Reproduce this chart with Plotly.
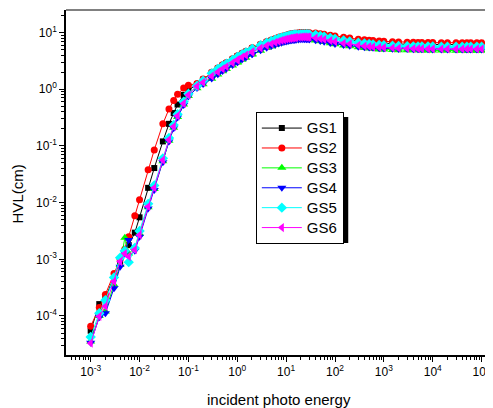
import plotly.graph_objects as go

energy = [0.001, 0.0015, 0.002, 0.003, 0.004, 0.005, 0.006, 0.008, 0.01, 0.015, 0.02, 0.03,
          0.04, 0.05, 0.06, 0.08, 0.1, 0.15, 0.2, 0.3, 0.4, 0.5, 0.6, 0.8, 1, 1.022, 1.25, 1.5,
          2, 2.044, 3, 4, 5, 6, 7, 8, 9, 10, 11, 12, 13, 14, 15, 16, 18, 20, 22, 24, 26, 28, 30,
          40, 50, 60, 80, 100, 150, 200, 300, 400, 500, 600, 800, 1000, 1500, 2000, 3000, 4000,
          5000, 6000, 8000, 10000, 15000, 20000, 30000, 40000, 50000, 60000, 80000, 100000]

gs1 = [5.5e-5, 1.62e-4, 2.09e-4, 5.0e-4, 8.9e-4, 1.41e-3, 1.78e-3, 2.95e-3, 5.5e-3, 1.82e-2,
       4.07e-2, 0.120, 0.245, 0.380, 0.537, 0.794, 0.955, 1.230, 1.479,
       1.950, 2.317, 2.630, 2.884, 3.350, 3.758, 3.802, 4.217, 4.571, 5.188, 5.248, 6.095, 6.761,
       7.244, 7.674, 8.035, 8.318, 8.551, 8.750, 9.016, 9.162, 9.268, 9.354, 9.441, 9.506, 9.594,
       9.661, 9.683, 9.683, 9.661, 9.638, 9.594, 9.441, 9.120, 8.872, 8.414, 8.091, 7.762, 7.464,
       7.079, 6.855, 6.714, 6.683, 6.546, 6.457, 6.339, 6.281, 6.209, 6.180, 6.166, 6.152, 6.138,
       6.124, 6.109, 6.109, 6.095, 6.095, 6.095, 6.095, 6.095, 6.095]

gs2 = [6.6e-5, 1.41e-4, 2.4e-4, 5.6e-4, 1.0e-3, 1.51e-3, 2.51e-3, 5.89e-3, 1.12e-2, 3.8e-2,
       8.5e-2, 0.245, 0.447, 0.631, 0.813, 1.047, 1.175, 1.259, 1.514,
       1.995, 2.371, 2.692, 2.951, 3.428, 3.846, 3.890, 4.315, 4.677, 5.309, 5.370, 6.237, 6.918,
       7.413, 7.852, 8.222, 8.511, 8.750, 8.954, 9.226, 9.376, 9.484, 9.572, 9.661, 9.727, 9.931,
       10.0, 10.02, 10.02, 10.0, 9.977, 9.931, 9.772, 9.550, 9.333, 8.933, 8.670, 8.222, 7.962,
       7.621, 7.430, 7.328, 7.211, 7.063, 6.998, 6.871, 6.808, 6.730, 6.699, 6.683, 6.668, 6.653,
       6.637, 6.622, 6.622, 6.607, 6.607, 6.607, 6.607, 6.607, 6.607]

gs3 = [3.55e-5, 1.0e-4, 1.2e-4, 3.55e-4, 7.9e-4, 2.4e-3, 1.26e-3, 1.58e-3, 2.82e-3, 8.3e-3,
       1.74e-2, 5.37e-2, 0.123, 0.209, 0.324, 0.537, 0.759, 1.04, 1.22,
       1.531, 1.820, 2.065, 2.265, 2.630, 2.951, 2.985, 3.311, 3.589, 4.074, 4.121, 4.786, 5.309,
       5.689, 6.026, 6.310, 6.531, 6.714, 6.871, 6.998, 7.112, 7.194, 7.261, 7.328, 7.379, 7.447,
       7.499, 7.516, 7.516, 7.499, 7.482, 7.447, 7.244, 6.998, 6.808, 6.457, 6.209, 5.888, 5.728,
       5.495, 5.321, 5.212, 5.129, 5.023, 5.012, 4.920, 4.875, 4.875, 4.853, 4.842, 4.831, 4.819,
       4.808, 4.797, 4.797, 4.786, 4.786, 4.786, 4.786, 4.786, 4.786]

gs4 = [3.39e-5, 9.5e-5, 1.12e-4, 3.09e-4, 7.4e-4, 1.26e-3, 2.19e-3, 1.41e-3, 2.51e-3, 7.9e-3,
       1.66e-2, 5.13e-2, 0.120, 0.204, 0.316, 0.525, 0.741, 1.047, 1.230,
       1.549, 1.841, 2.089, 2.291, 2.661, 2.985, 3.020, 3.350, 3.631, 4.121, 4.169, 4.842, 5.370,
       5.754, 6.095, 6.383, 6.607, 6.792, 6.950, 7.079, 7.194, 7.278, 7.345, 7.413, 7.464, 7.534,
       7.586, 7.603, 7.603, 7.586, 7.568, 7.534, 7.328, 7.079, 6.887, 6.531, 6.281, 6.026, 5.861,
       5.623, 5.508, 5.458, 5.370, 5.260, 5.248, 5.152, 5.105, 5.105, 5.082, 5.070, 5.058, 5.047,
       5.035, 5.023, 5.023, 5.012, 5.012, 5.012, 5.012, 5.012, 5.012]

gs5 = [4.27e-5, 1.12e-4, 1.9e-4, 4.79e-4, 1.07e-3, 1.41e-3, 8.9e-4, 1.58e-3, 3.16e-3, 9.5e-3,
       2.0e-2, 6.03e-2, 0.138, 0.234, 0.363, 0.603, 0.832, 1.148, 1.413,
       1.905, 2.265, 2.570, 2.818, 3.273, 3.673, 3.715, 4.121, 4.467, 5.070, 5.129, 5.957, 6.607,
       7.079, 7.499, 7.852, 8.128, 8.356, 8.551, 8.710, 8.851, 8.954, 9.036, 9.120, 9.183, 9.268,
       9.333, 9.354, 9.354, 9.333, 9.311, 9.268, 9.016, 8.710, 8.472, 8.035, 7.727, 7.244, 6.966,
       6.607, 6.397, 6.266, 6.166, 6.039, 5.957, 5.848, 5.794, 5.728, 5.702, 5.689, 5.675, 5.662,
       5.649, 5.636, 5.636, 5.623, 5.623, 5.623, 5.623, 5.623, 5.623]

gs6 = [3.31e-5, 9.8e-5, 1.48e-4, 4.07e-4, 9.1e-4, 1.26e-3, 1.12e-3, 1.48e-3, 2.69e-3, 8.5e-3,
       1.82e-2, 5.62e-2, 0.129, 0.219, 0.339, 0.562, 0.794, 1.122, 1.318,
       1.698, 2.018, 2.291, 2.512, 2.917, 3.273, 3.311, 3.673, 3.981, 4.519, 4.571, 5.309, 5.888,
       6.310, 6.683, 6.998, 7.244, 7.447, 7.621, 7.762, 7.889, 7.980, 8.054, 8.128, 8.185, 8.260,
       8.318, 8.337, 8.337, 8.318, 8.299, 8.260, 8.035, 7.762, 7.551, 7.161, 6.887, 6.457, 6.281,
       5.957, 5.768, 5.649, 5.559, 5.445, 5.433, 5.333, 5.284, 5.224, 5.200, 5.188, 5.176, 5.164,
       5.152, 5.140, 5.140, 5.129, 5.129, 5.129, 5.129, 5.129, 5.129]

series_names = ["GS1", "GS2", "GS3", "GS4", "GS5", "GS6"]
series_values = [gs1, gs2, gs3, gs4, gs5, gs6]
colors = ["#000000", "#ff0000", "#00ff00", "#0000ff", "#00ffff", "#ff00ff"]
symbols = ["square", "circle", "triangle-up", "triangle-down", "diamond", "triangle-left"]
sizes = [6, 7, 8, 8, 8, 8]

x_tick_exp = [-3, -2, -1, 0, 1, 2, 3, 4, 5]
y_tick_exp = [-4, -3, -2, -1, 0, 1]

FONT = "Arial, Liberation Sans, sans-serif"

fig = go.Figure()
for name, vals, col, sym, sz in zip(series_names, series_values, colors, symbols, sizes):
    fig.add_trace(go.Scatter(
        x=energy, y=vals, mode="lines+markers",
        name=f'<span style="font-size:15px">{name}</span>',
        line=dict(color=col, width=1),
        marker=dict(symbol=sym, size=sz, color=col, line=dict(width=0)),
    ))

x_minor = [k * 10.0 ** d for d in range(-4, 6) for k in range(2, 10)]
y_minor = [k * 10.0 ** d for d in range(-5, 2) for k in range(2, 10)]

axis_common = dict(
    type="log", showgrid=False, zeroline=False, showline=True, linecolor="black",
    linewidth=1.5, ticks="outside", ticklen=5, tickwidth=1, tickcolor="black",
    tickfont=dict(family=FONT, size=12, color="black"), ticklabeloverflow="allow",
)

fig.update_xaxes(
    **axis_common, range=[-3.505, 5.09], tickmode="array",
    tickvals=[10.0 ** e for e in x_tick_exp],
    ticktext=[f"10<sup>{e}</sup>" for e in x_tick_exp],
    minor=dict(tickmode="array", tickvals=x_minor, ticks="outside", ticklen=3,
               tickcolor="black", tickwidth=1, showgrid=False),
)
fig.update_yaxes(
    **axis_common, range=[-4.688, 1.397], tickmode="array",
    tickvals=[10.0 ** e for e in y_tick_exp],
    ticktext=[f"10<sup>{e}</sup>" for e in y_tick_exp],
    minor=dict(tickmode="array", tickvals=y_minor, ticks="outside", ticklen=3,
               tickcolor="black", tickwidth=1, showgrid=False),
)

# top frame line
fig.add_shape(type="line", xref="paper", yref="paper", x0=0, x1=1, y0=1, y1=1,
              line=dict(color="#808080", width=2))
# legend shadow
fig.add_shape(type="rect", xref="paper", yref="paper",
              x0=0.4635, x1=0.672, y0=0.3246, y1=0.690,
              fillcolor="black", line=dict(width=0), layer="above")

fig.add_annotation(text="HVL(cm)", xref="paper", yref="paper", x=(17 - 66) / 425, y=0.467,
                   textangle=-90, showarrow=False, xanchor="center", yanchor="middle",
                   font=dict(family=FONT, size=15, color="black"))
fig.add_annotation(text="incident photo energy", xref="paper", yref="paper",
                   x=(282 - 66) / 425, y=(355 - 399) / 345, showarrow=False,
                   xanchor="center", yanchor="middle",
                   font=dict(family=FONT, size=15, color="black"))

# the page body has an 8px margin, so the figure is placed at (8, 8)
fig.update_layout(
    width=485, height=400,
    margin=dict(l=58, r=2, t=2, b=53),
    plot_bgcolor="white", paper_bgcolor="white",
    showlegend=True,
    legend=dict(x=0.452, y=0.704, xanchor="left", yanchor="top",
                bgcolor="white", bordercolor="black", borderwidth=1,
                font=dict(family=FONT, size=13, color="black"),
                itemwidth=40, tracegroupgap=0),
)

fig.write_html("out.html")
